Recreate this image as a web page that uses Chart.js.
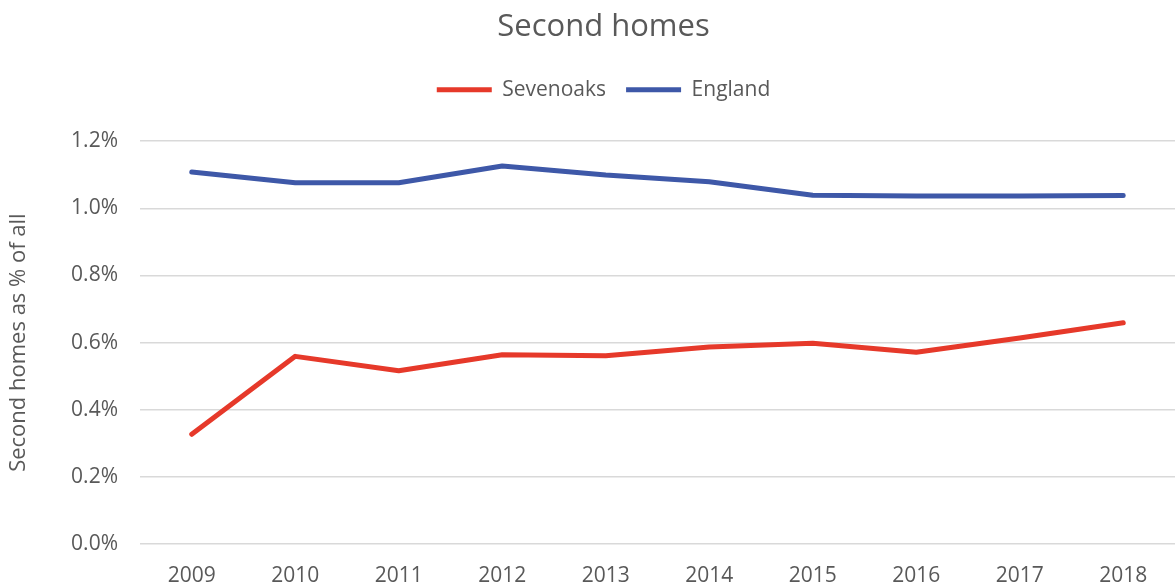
<!DOCTYPE html>
<html>
<head>
<meta charset="utf-8">
<script src="https://cdn.jsdelivr.net/npm/chart.js@4/dist/chart.umd.min.js"></script>
<style>
html,body{margin:0;padding:0;background:#fff;}
#wrap{width:1176px;height:588px;position:relative;}
</style>
</head>
<body>
<div id="wrap"><canvas id="c" width="1176" height="588"></canvas></div>
<script>
const years = ['2009','2010','2011','2012','2013','2014','2015','2016','2017','2018'];
const sevenoaks = [0.327, 0.559, 0.516, 0.564, 0.561, 0.587, 0.598, 0.571, 0.614, 0.659];
const england = [1.108, 1.076, 1.076, 1.126, 1.099, 1.079, 1.039, 1.037, 1.037, 1.038];
const yTicks = [0.0, 0.2, 0.4, 0.6, 0.8, 1.0, 1.2];

const FONT = "'Open Sans', 'Noto Sans', sans-serif";
const GREY = '#595959';

// Shift title and legend to the right (Excel centres them slightly off-canvas-centre)
// and leave extra space under the legend.
const headerShift = {
  id: 'headerShift',
  beforeLayout(chart) {
    const lg = chart.legend;
    if (lg && !lg._patched) {
      const orig = lg.fit;
      lg.fit = function () { orig.call(this); this.height += 31; };
      lg._patched = true;
    }
  },
  afterLayout(chart) {
    const dx = 16;
    [chart.titleBlock, chart.legend].forEach(b => {
      if (b) { b.left += dx; b.right += dx; }
    });
  }
};

new Chart(document.getElementById('c'), {
  type: 'line',
  data: {
    labels: years,
    datasets: [
      {label: 'Sevenoaks', data: sevenoaks, borderColor: '#E6392A', backgroundColor: '#E6392A',
       borderWidth: 5, pointRadius: 0, tension: 0, borderCapStyle: 'round', borderJoinStyle: 'round'},
      {label: 'England', data: england, borderColor: '#3E58A8', backgroundColor: '#3E58A8',
       borderWidth: 5, pointRadius: 0, tension: 0, borderCapStyle: 'round', borderJoinStyle: 'round'}
    ]
  },
  plugins: [headerShift],
  options: {
    responsive: false,
    animation: false,
    layout: {padding: {left: 0, right: 1, top: 0, bottom: 0}},
    plugins: {
      title: {display: true, text: 'Second homes', color: GREY,
        font: {family: FONT, size: 31, weight: 'normal'}, padding: {top: 9, bottom: 13}},
      legend: {display: true, position: 'top',
        labels: {usePointStyle: true, pointStyle: 'line', pointStyleWidth: 55, boxHeight: 5,
          color: GREY, font: {family: FONT, size: 21}, padding: 20}},
      tooltip: {enabled: false}
    },
    scales: {
      x: {
        offset: true,
        grid: {display: false},
        border: {display: false},
        ticks: {color: GREY, font: {family: FONT, size: 21}, padding: 11, maxRotation: 0},
        afterFit: (s) => { s.height = 44; }
      },
      y: {
        min: 0, max: 1.2,
        afterBuildTicks: (s) => { s.ticks = yTicks.map(v => ({value: v})); },
        grid: {color: '#D9D9D9', lineWidth: 1.5, drawTicks: false},
        border: {display: false},
        ticks: {color: GREY, font: {family: FONT, size: 21}, padding: 22,
          callback: (v) => v.toFixed(1) + '%'},
        title: {display: true, text: 'Second homes as % of all', color: GREY,
          font: {family: FONT, size: 22}, padding: {top: 6, bottom: 4}},
        afterFit: (s) => { s.width = 140; }
      }
    }
  }
});
</script>
</body>
</html>
